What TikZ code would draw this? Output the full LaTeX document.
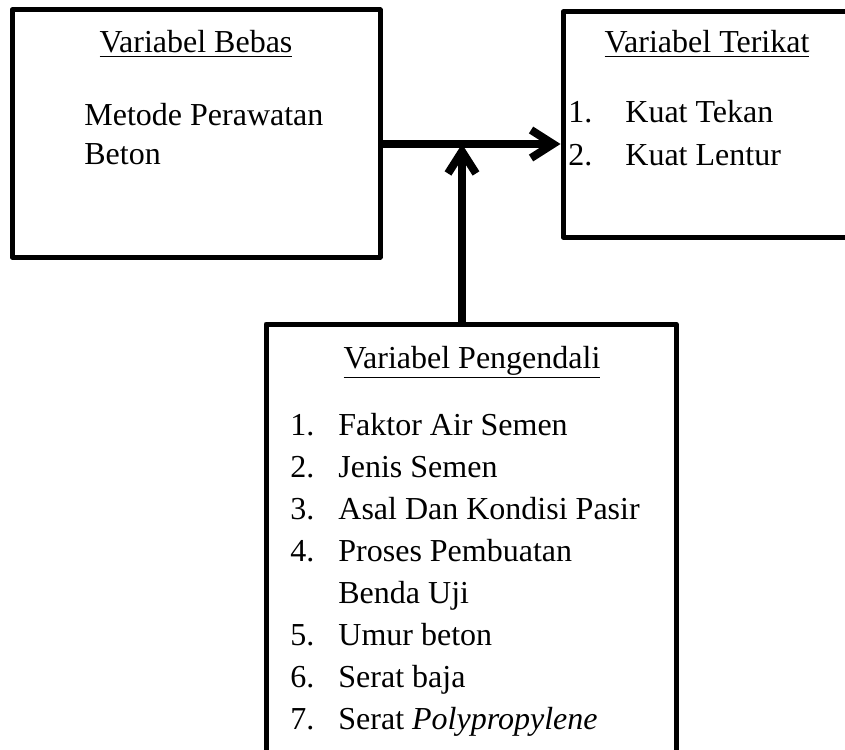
\documentclass[tikz,border=0pt]{standalone}
\usepackage{fontspec}
\setmainfont{Liberation Serif}
\usetikzlibrary{positioning}
\usetikzlibrary{arrows.meta}

\newcommand{\itemno}[2]{\makebox[#1][l]{#2}}

\begin{document}
\begin{tikzpicture}[x=0.5pt,y=-0.5pt,line join=round,
	main box/.style={draw,line width=2.5pt,inner sep=0pt},
	title text/.style={anchor=base,inner sep=0pt,font=\fontsize{16}{21}\selectfont},
	body text/.style={anchor=base west,inner sep=0pt},
	link/.style={line width=4pt,line cap=round,-{Straight Barb[length=11pt,width=14pt]}}]
	
	\clip (0,0) rectangle (845,749);
	
	\node[main box, minimum width=184pt, minimum height=123.5pt] (bebas) at (196,133.5) {};
	\node[main box, minimum width=168.5pt, minimum height=112.5pt] (terikat) at (731.5,124.5) {};
	\node[main box, minimum width=205pt, minimum height=238pt] (pengendali) at (471,562) {};
	
	\node[title text] (bebas title) at (196,53) {\underline{Variabel Bebas}};
	\node[title text] (terikat title) at (707,53) {\underline{Variabel Terikat}};
	\node[title text] (pengendali title) at (472,368) {\underline{Variabel Pengendali}};
	
	\node[body text, font=\fontsize{16}{19.5}\selectfont] (bebas list) at (84,126)
	{\begin{tabular}[t]{@{}l@{}}
		Metode Perawatan\\
		Beton
	\end{tabular}};
	\node[body text, font=\fontsize{16}{21.5}\selectfont] (terikat list) at (568,122)
	{\begin{tabular}[t]{@{}l@{}}
		\itemno{28.5pt}{1.}Kuat Tekan\\
		\itemno{28.5pt}{2.}Kuat Lentur
	\end{tabular}};
	\node[body text, font=\fontsize{16}{21}\selectfont] (pengendali list) at (290,435)
	{\begin{tabular}[t]{@{}l@{}}
		\itemno{24pt}{1.}Faktor Air Semen\\
		\itemno{24pt}{2.}Jenis Semen\\
		\itemno{24pt}{3.}Asal Dan Kondisi Pasir\\
		\itemno{24pt}{4.}Proses Pembuatan\\
		\itemno{24pt}{}Benda Uji\\
		\itemno{24pt}{5.}Umur beton\\
		\itemno{24pt}{6.}Serat baja\\
		\itemno{24pt}{7.}Serat \textit{Polypropylene}
	\end{tabular}};
	
	\coordinate (join) at (462,144);
	
	\draw[link] (bebas.east |- join) -- (terikat.west |- join);
	\draw[link] (pengendali.north -| join) -- (join);
\end{tikzpicture}
\end{document}
